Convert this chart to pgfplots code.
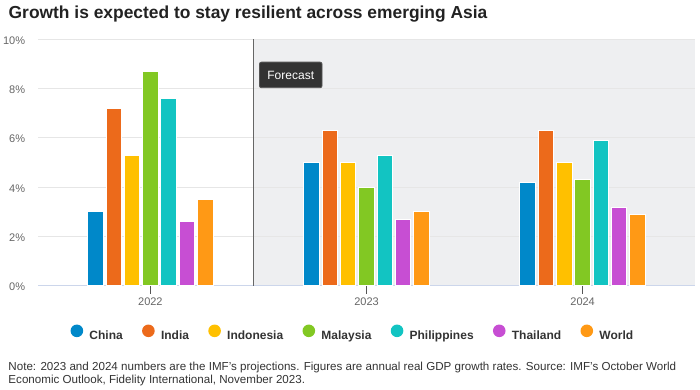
\documentclass[border=0pt]{standalone}
\usepackage{fontspec}
\setmainfont{Liberation Sans}
\usepackage{pgfplots}
\pgfplotsset{compat=1.18}
\definecolor{cChina}{HTML}{0088C9}
\definecolor{cIndia}{HTML}{EC6A1B}
\definecolor{cIndonesia}{HTML}{FFC000}
\definecolor{cMalaysia}{HTML}{82C823}
\definecolor{cPhilippines}{HTML}{12C4C2}
\definecolor{cThailand}{HTML}{C74ED3}
\definecolor{cWorld}{HTML}{FF9915}
\definecolor{shade}{HTML}{EEEFF1}
\definecolor{gridc}{HTML}{E6E6E6}
\definecolor{axisc}{HTML}{CCD6EB}
\definecolor{tickc}{HTML}{555555}
\definecolor{labc}{HTML}{666666}
\definecolor{legc}{HTML}{333333}
\definecolor{divc}{HTML}{666666}
\definecolor{boxc}{HTML}{333333}
\definecolor{boxd}{HTML}{555555}
\definecolor{titlec}{HTML}{222222}
\pgfplotsset{gdpbar/.style={ybar, bar width=15.5pt, bar shift=#1, draw=white, line width=1pt, forget plot},
  dotlegend/.style={legend image code/.code={\path[fill=none,draw=none] (0pt,-2pt) rectangle (38.2pt,10.3pt); \fill[##1,draw=none] (25.6pt,4.3pt) circle (6.3pt);}}}
\begin{document}
\begin{tikzpicture}
\begin{axis}[
  at={(38pt,104pt)}, anchor=south west,
  scale only axis, width=657pt, height=246.7pt,
  set layers,
  xmin=-0.52, xmax=2.52, ymin=0, ymax=10,
  axis x line*=bottom, axis y line*=left,
  x axis line style={draw=axisc, line width=1pt, -},
  y axis line style={draw=none},
  xtick={0,1,2}, xticklabels={2022,2023,2024},
  ytick={0,2,4,6,8,10},
  /pgf/number format/assume math mode=true,
  yticklabel={\pgfmathprintnumber{\tick}\%},
  ymajorgrids, grid style={draw=gridc, line width=1pt},
  tick align=center, major tick length=8pt,
  x tick style={draw=tickc, line width=1pt, yshift=-4pt},
  y tick style={draw=none},
  xticklabel style={font=\fontsize{11}{13}\selectfont, text=labc, inner sep=0pt, yshift=-7.5pt},
  yticklabel style={font=\fontsize{11}{13}\selectfont, text=labc, inner sep=0pt, xshift=-8.7pt, yshift=-1pt},
  legend columns=7,
  legend cell align=left,
  legend style={at={(0.0199,-0.1865)}, anchor=west, draw=none, fill=none,
    font=\bfseries\fontsize{12}{14}\selectfont, text=legc,
    inner sep=0pt, column sep=0pt, row sep=0pt,
    nodes={inner sep=0pt, text depth=0pt}},
]
\addplot[fill=shade, draw=none, forget plot, on layer=axis background] coordinates {(0.476,0) (0.476,10) (2.52,10) (2.52,0)} -- cycle;
\addplot[gdpbar=-54.9pt, fill=cChina] coordinates {(0,3.0) (1,5.0) (2,4.2)};
\addplot[gdpbar=-36.6pt, fill=cIndia] coordinates {(0,7.2) (1,6.3) (2,6.3)};
\addplot[gdpbar=-18.3pt, fill=cIndonesia] coordinates {(0,5.3) (1,5.0) (2,5.0)};
\addplot[gdpbar=0pt, fill=cMalaysia] coordinates {(0,8.7) (1,4.0) (2,4.3)};
\addplot[gdpbar=18.3pt, fill=cPhilippines] coordinates {(0,7.6) (1,5.3) (2,5.9)};
\addplot[gdpbar=36.6pt, fill=cThailand] coordinates {(0,2.6) (1,2.7) (2,3.2)};
\addplot[gdpbar=54.9pt, fill=cWorld] coordinates {(0,3.5) (1,3.0) (2,2.9)};
\addlegendimage{dotlegend, fill=cChina}
\addlegendimage{dotlegend, fill=cIndia}
\addlegendimage{dotlegend, fill=cIndonesia}
\addlegendimage{dotlegend, fill=cMalaysia}
\addlegendimage{dotlegend, fill=cPhilippines}
\addlegendimage{dotlegend, fill=cThailand}
\addlegendimage{dotlegend, fill=cWorld}
\legend{China,India,Indonesia,Malaysia,Philippines,Thailand,World}
\draw[divc, line width=1.3pt] (axis cs:0.476,0) -- (axis cs:0.476,10);
\node[anchor=north west, fill=boxc, draw=boxd, line width=0.8pt, rounded corners=2pt, text=white,
  font=\fontsize{12}{14}\selectfont, minimum height=25.6pt, inner xsep=8pt, inner ysep=0pt]
  at (rel axis cs:0.3364,0.909) {Forecast};
\end{axis}
\node[anchor=base west, inner sep=0pt, font=\bfseries\fontsize{17.4}{20}\selectfont, text=titlec] at (8.5pt,371pt)
  {Growth is expected to stay resilient across emerging Asia};
\node[anchor=base west, font=\fontsize{11.6}{13}\selectfont, text=legc, inner sep=0pt] at (8.3pt,19.5pt)
  {Note: 2023 and 2024 numbers are the IMF's projections. Figures are annual real GDP growth rates. Source: IMF's October World};
\node[anchor=base west, font=\fontsize{11.6}{13}\selectfont, text=legc, inner sep=0pt] at (8.3pt,6.5pt)
  {Economic Outlook, Fidelity International, November 2023.};
\path (0pt,0pt) rectangle (700pt,390pt);
\end{tikzpicture}
\end{document}
